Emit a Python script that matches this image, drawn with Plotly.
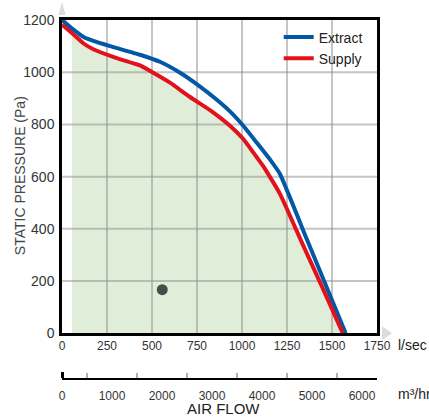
import plotly.graph_objects as go

# ---- data ----
extract_flow = [0, 60, 120, 174, 267, 433, 544, 656, 767, 850, 933, 1007, 1081, 1156, 1211, 1359, 1576]
extract_pa = [1200, 1165, 1135, 1120, 1100, 1067, 1040, 998, 945, 900, 850, 795, 731, 665, 610, 362, 0]

supply_flow = [0, 55, 120, 174, 300, 433, 507, 600, 711, 822, 933, 1007, 1081, 1118, 1211, 1331, 1450, 1560]
supply_pa = [1182, 1150, 1110, 1088, 1055, 1026, 998, 960, 905, 855, 795, 744, 675, 640, 534, 350, 170, 0]

point_flow = [557]
point_pa = [167]

ls_ticks = [0, 250, 500, 750, 1000, 1250, 1500, 1750]
pa_ticks = [0, 200, 400, 600, 800, 1000, 1200]
m3h_ticks = [0, 1000, 2000, 3000, 4000, 5000, 6000]
m3h_minor = [500, 1500, 2500, 3500, 4500, 5500]

# ---- layout geometry (pixels) ----
W, H = 429, 418
L, R, T, B = 62, 377, 18, 378
plot_bottom = 333


def px(xp):
    return (xp - L) / (R - L)


def py(yp):
    return (B - yp) / (B - T)


fig = go.Figure()

# green operating area under the supply curve
fig.add_trace(go.Scatter(
    x=supply_flow[1:], y=supply_pa[1:], mode="lines", fill="tozeroy",
    fillcolor="rgba(166,206,145,0.35)",
    line=dict(width=0, color="rgba(0,0,0,0)", shape="spline", smoothing=0.4),
    showlegend=False, hoverinfo="skip"))

# grid lines, one trace per line, drawn over the fill and under the curves
grid_line = dict(color="rgba(140,140,140,0.5)", width=2)
for v in ls_ticks[1:-1]:
    fig.add_trace(go.Scatter(x=[v, v], y=[pa_ticks[0], pa_ticks[-1]], mode="lines",
                             line=grid_line, showlegend=False, hoverinfo="skip"))
for v in pa_ticks[1:-1]:
    fig.add_trace(go.Scatter(x=[ls_ticks[0], ls_ticks[-1]], y=[v, v], mode="lines",
                             line=grid_line, showlegend=False, hoverinfo="skip"))

fig.add_trace(go.Scatter(
    x=extract_flow, y=extract_pa, mode="lines", name="Extract",
    line=dict(color="#0058a6", width=4, shape="spline", smoothing=0.4)))
fig.add_trace(go.Scatter(
    x=supply_flow, y=supply_pa, mode="lines", name="Supply",
    line=dict(color="#e2111b", width=4, shape="spline", smoothing=0.4)))

fig.add_trace(go.Scatter(
    x=point_flow, y=point_pa, mode="markers", showlegend=False,
    marker=dict(color="#474c47", size=11)))

# carrier for the secondary (m³/hr) axis, in its own thin subplot
fig.add_trace(go.Scatter(
    x=m3h_ticks, y=[0] * len(m3h_ticks), xaxis="x2", yaxis="y2", mode="markers",
    marker=dict(opacity=0), showlegend=False, hoverinfo="skip"))

ydom0 = py(plot_bottom)
narrow = "Liberation Sans Narrow, Arial Narrow, Liberation Sans, Arial"

fig.update_layout(
    width=W, height=H,
    margin=dict(l=L, r=W - R, t=T, b=H - B),
    paper_bgcolor="white", plot_bgcolor="white",
    font=dict(family="Liberation Sans, Arial, sans-serif", color="#333333"),
    xaxis=dict(
        range=[0, 1750], tickvals=ls_ticks, ticks="",
        showgrid=False,
        showline=True, linecolor="black", linewidth=2.5, mirror=True,
        zeroline=False,
        tickfont=dict(family=narrow, size=12, color="#333"),
    ),
    yaxis=dict(
        domain=[ydom0, 1], range=[0, 1200], tickvals=pa_ticks, ticks="",
        showgrid=False,
        showline=True, linecolor="black", linewidth=2.5, mirror=True,
        zeroline=False, ticklabelstandoff=2,
        tickfont=dict(size=14, color="#333"),
    ),
    xaxis2=dict(
        anchor="y2", side="bottom",
        range=[0, 1750 * 3.6], tickvals=m3h_ticks, ticks="",
        showgrid=False, zeroline=False,
        showline=True, linecolor="black", linewidth=2,
        ticklabelstandoff=6,
        minor=dict(tickmode="array", tickvals=m3h_minor, ticks="inside",
                   ticklen=5, tickwidth=2, tickcolor="#b0b0b0"),
        tickfont=dict(family=narrow, size=12, color="#333"),
    ),
    yaxis2=dict(domain=[0, 0.01], visible=False, range=[0, 1]),
    legend=dict(x=0.688, y=0.996, xanchor="left", yanchor="top",
                bgcolor="rgba(0,0,0,0)", font=dict(size=14, color="#222"),
                tracegroupgap=0, itemwidth=30),
    showlegend=True,
)

annotations = [
    dict(text="STATIC PRESSURE (Pa)", x=px(20), y=py(175), xref="paper", yref="paper",
         xanchor="center", yanchor="middle",
         textangle=-90, showarrow=False, font=dict(size=14, color="#444")),
    dict(text="l/sec", x=px(396), y=py(345), xref="paper", yref="paper",
         xanchor="left", yanchor="middle", showarrow=False, font=dict(size=14, color="#222")),
    dict(text="m³/hr", x=px(396), y=py(394), xref="paper", yref="paper",
         xanchor="left", yanchor="middle", showarrow=False, font=dict(size=14, color="#222")),
    dict(text="AIR FLOW", x=px(224), y=py(409), xref="paper", yref="paper",
         xanchor="center", yanchor="middle",
         showarrow=False, font=dict(size=15, color="#222")),
]
fig.update_layout(annotations=annotations)


def tri(pts):
    return "M " + " L ".join(f"{px(a):.4f},{py(b):.4f}" for a, b in pts) + " Z"


shapes = [
    dict(type="path", xref="paper", yref="paper",
         path=tri([(58.5, 13), (65.5, 13), (62, 0)]),
         fillcolor="#dcdcdc", line=dict(width=0)),
    dict(type="path", xref="paper", yref="paper",
         path=tri([(382, 326), (382, 340), (392, 333)]),
         fillcolor="#dcdcdc", line=dict(width=0)),
    dict(type="line", xref="paper", yref="paper",
         x0=px(62.5), x1=px(62.5), y0=py(378), y1=py(372),
         line=dict(color="black", width=3)),
]
fig.update_layout(shapes=shapes)

fig.write_html("out.html", config={"displayModeBar": False},
               post_script="document.body.style.margin='0';")
